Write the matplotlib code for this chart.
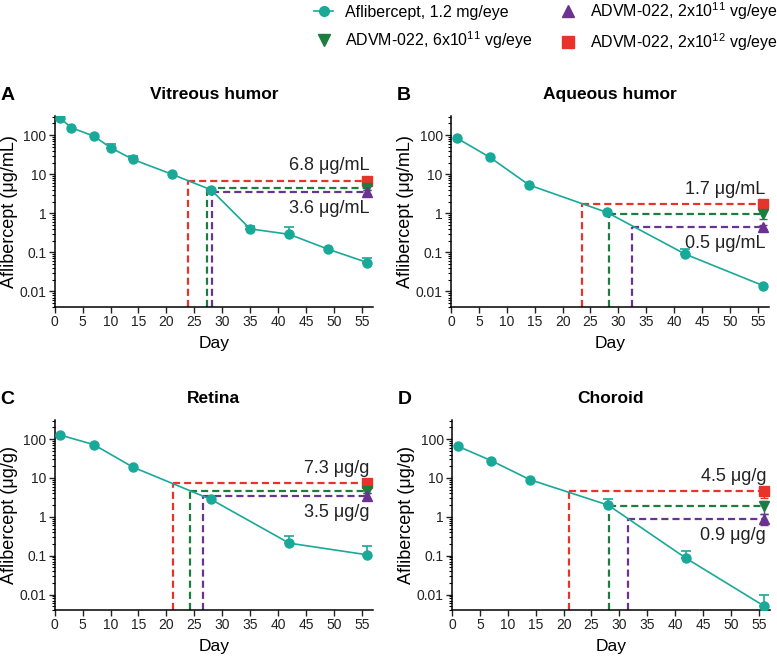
import numpy as np
import matplotlib
matplotlib.use("Agg")
import matplotlib.pyplot as plt
from matplotlib.lines import Line2D
from matplotlib.ticker import LogLocator, FixedLocator, FixedFormatter, NullFormatter

plt.rcParams['font.family'] = ['Liberation Sans', 'DejaVu Sans']
plt.rcParams['mathtext.fontset'] = 'custom'
plt.rcParams['mathtext.rm'] = 'Liberation Sans'
plt.rcParams['mathtext.it'] = 'Liberation Sans'
plt.rcParams['mathtext.bf'] = 'Liberation Sans:bold'

TEAL = '#18a999'
RED = '#e8332a'
GREEN = '#1b7d3e'
PURPLE = '#6b3291'

# ---------------- data ----------------
panel_letters = ['A', 'B', 'C', 'D']
panel_titles = ['Vitreous humor', 'Aqueous humor', 'Retina', 'Choroid']
ylabels = ['Aflibercept (μg/mL)', 'Aflibercept (μg/mL)', 'Aflibercept (μg/g)', 'Aflibercept (μg/g)']

days_A = [1, 3, 7, 10, 14, 21, 28, 35, 42, 49, 56]
afl_A = [270, 155, 95, 48, 24, 10, 4.0, 0.40, 0.29, 0.12, 0.055]
afl_A_sd = [0, 0, 0, 12, 6, 0, 0, 0.06, 0.15, 0, 0.018]

days_B = [1, 7, 14, 28, 42, 56]
afl_B = [85, 27, 5.3, 1.05, 0.09, 0.014]
afl_B_sd = [0, 0, 0, 0, 0.035, 0]

days_C = [1, 7, 14, 28, 42, 56]
afl_C = [127, 72, 19, 2.8, 0.21, 0.105]
afl_C_sd = [0, 0, 0, 0, 0.11, 0.075]

days_D = [1, 7, 14, 28, 42, 56]
afl_D = [66, 28, 9.0, 2.0, 0.085, 0.005]
afl_D_sd = [0, 0, 0, 0.8, 0.045, 0.005]

# ADVM-022 day-56 levels: [red 2x10^12, green 6x10^11, purple 2x10^11]
advm_day = 56
advm_A = [6.8, 4.5, 3.6]
advm_B = [1.7, 0.95, 0.45]
advm_C = [7.3, 4.7, 3.5]
advm_D = [4.5, 1.9, 0.9]
advm_A_sd = [0.6, 0.5, 0.4]
advm_B_sd = [0.1, 0.25, 0.05]
advm_C_sd = [0.6, 0.5, 0.6]
advm_D_sd = [1.4, 0.7, 0.3]

# Day on aflibercept curve equivalent to each ADVM level
equiv_A = [23.8, 27.3, 28.2]
equiv_B = [23.4, 28.3, 32.5]
equiv_C = [21.2, 24.3, 26.5]
equiv_D = [20.9, 28.1, 31.5]

# labelled values (upper = red, lower = purple)
label_A = ['6.8 μg/mL', '3.6 μg/mL']
label_B = ['1.7 μg/mL', '0.5 μg/mL']
label_C = ['7.3 μg/g', '3.5 μg/g']
label_D = ['4.5 μg/g', '0.9 μg/g']

xticks = list(range(0, 56, 5))
yticks = [0.01, 0.1, 1, 10, 100]
ytick_labels = ['0.01', '0.1', '1', '10', '100']

legend_labels = ['Aflibercept, 1.2 mg/eye',
                 'ADVM-022, 6x10$^{11}$ vg/eye',
                 'ADVM-022, 2x10$^{11}$ vg/eye',
                 'ADVM-022, 2x10$^{12}$ vg/eye']

panels = [
    (days_A, afl_A, afl_A_sd, advm_A, advm_A_sd, equiv_A, label_A),
    (days_B, afl_B, afl_B_sd, advm_B, advm_B_sd, equiv_B, label_B),
    (days_C, afl_C, afl_C_sd, advm_C, advm_C_sd, equiv_C, label_C),
    (days_D, afl_D, afl_D_sd, advm_D, advm_D_sd, equiv_D, label_D),
]

# ---------------- figure ----------------
W, H = 777, 657
fig = plt.figure(figsize=(W / 100, H / 100), dpi=100)

def fx(px):
    return px / W

def fy(py):
    return 1 - py / H

boxes = [(54.7, 116, 373, 307), (451, 116, 769, 307),
         (54.7, 420, 373, 610), (452, 420, 770, 610)]

YMIN, YMAX = 0.004, 310
advm_colors = [RED, GREEN, PURPLE]
advm_markers = ['s', 'v', '^']

for i, (box, pdata) in enumerate(zip(boxes, panels)):
    l, t, r, b = box
    ax = fig.add_axes([fx(l), fy(b), fx(r) - fx(l), fy(t) - fy(b)])
    days, vals, sd, advm, advm_sd, equiv, labels = pdata

    ax.set_yscale('log')
    ax.set_xlim(0, 57)
    ax.set_ylim(YMIN, YMAX)

    # dashed reference lines
    for c, lvl, d in zip(advm_colors, advm, equiv):
        ax.plot([d, d], [YMIN, lvl], ls=(0, (3.2, 1.8)), color=c, lw=1.6, zorder=2)
        ax.plot([d, advm_day], [lvl, lvl], ls=(0, (3.2, 1.8)), color=c, lw=1.6, zorder=2)

    # aflibercept curve
    ax.plot(days, vals, '-', color=TEAL, lw=1.2, zorder=3)
    sd_arr = np.array(sd, dtype=float)
    mask = sd_arr > 0
    if mask.any():
        ax.errorbar(np.array(days)[mask], np.array(vals)[mask],
                    yerr=[np.zeros(mask.sum()), sd_arr[mask]],
                    fmt='none', ecolor=TEAL, elinewidth=1.2, capsize=3.5,
                    capthick=1.2, zorder=3)
    ax.plot(days, vals, 'o', color=TEAL, ms=6.5, zorder=4)

    # ADVM markers
    for c, m, lvl, e in zip(advm_colors, advm_markers, advm, advm_sd):
        ax.errorbar([advm_day], [lvl], yerr=[[e], [e]], fmt=m, color=c,
                    ms=6.5, elinewidth=1.0, capsize=3, capthick=1.0, zorder=5)

    # value labels
    ax.text(advm_day + 0.3, advm[0] * 1.45, labels[0], ha='right', va='bottom',
            fontsize=13, color='#222222')
    ax.text(advm_day + 0.3, advm[2] / 1.6, labels[1], ha='right', va='top',
            fontsize=13, color='#222222')

    ax.spines['top'].set_visible(False)
    ax.spines['right'].set_visible(False)
    ax.spines['left'].set_linewidth(1.1)
    ax.spines['bottom'].set_linewidth(1.1)

    ax.xaxis.set_major_locator(FixedLocator(xticks))
    ax.set_xticklabels([str(v) for v in xticks])
    ax.yaxis.set_major_locator(FixedLocator(yticks))
    ax.yaxis.set_major_formatter(FixedFormatter(ytick_labels))
    ax.yaxis.set_minor_locator(LogLocator(base=10, subs=np.arange(2, 10)))
    ax.yaxis.set_minor_formatter(NullFormatter())
    ax.tick_params(axis='both', which='major', direction='out', length=4,
                   width=1.0, labelsize=10, pad=2, colors='#222222')
    ax.tick_params(axis='y', which='minor', direction='out', length=2, width=0.8)

    ax.set_xlabel('Day', fontsize=12.5, labelpad=5)
    ax.set_ylabel(ylabels[i], fontsize=13)
    ax.yaxis.set_label_coords(-37.0 / (r - l), 0.5)
    ax.set_title(panel_titles[i], fontsize=12.5, fontweight='bold', pad=12)

    fig.text(fx(l - 54), fy(t - 20), panel_letters[i], fontsize=14,
             fontweight='bold', ha='left', va='center')

# legend
handles = [
    Line2D([], [], color=TEAL, marker='o', ms=7, lw=1.2),
    Line2D([], [], color=GREEN, marker='v', ms=9, lw=0),
    Line2D([], [], color=PURPLE, marker='^', ms=9, lw=0),
    Line2D([], [], color=RED, marker='s', ms=8, lw=0),
]
fig.legend(handles, legend_labels, ncol=2, loc='upper left',
           bbox_to_anchor=(fx(314), fy(0)), frameon=False, fontsize=11.5,
           handlelength=1.2, handletextpad=0.75, columnspacing=1.6,
           labelspacing=0.6, borderpad=0.0, borderaxespad=0.0)

fig.savefig('out.png', dpi=100)
